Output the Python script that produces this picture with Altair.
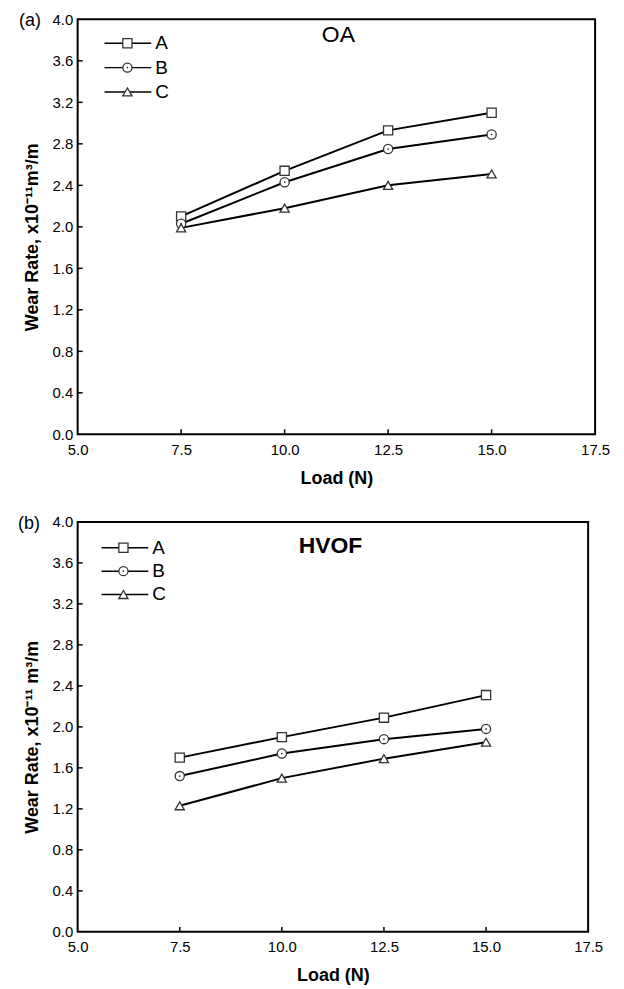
import altair as alt
import pandas as pd

FONT = "Liberation Sans"

loads = [7.5, 10.0, 12.5, 15.0]
series = ["A", "B", "C"]
shapes = ["square", "circle", "triangle-up"]
sizes = [85, 85, 180]

oa_A = [2.10, 2.54, 2.93, 3.10]
oa_B = [2.03, 2.43, 2.75, 2.89]
oa_C = [1.99, 2.18, 2.40, 2.51]

hvof_A = [1.70, 1.90, 2.09, 2.31]
hvof_B = [1.52, 1.74, 1.88, 1.98]
hvof_C = [1.23, 1.50, 1.69, 1.85]

x_labels = [5.0, 7.5, 10.0, 12.5, 15.0, 17.5]
x_ticks = [7.5, 10.0, 12.5, 15.0]
y_labels = [0.0, 0.4, 0.8, 1.2, 1.6, 2.0, 2.4, 2.8, 3.2, 3.6, 4.0]
y_ticks = [0.4, 0.8, 1.2, 1.6, 2.0, 2.4, 2.8, 3.2, 3.6]


def panel(vals, tag, name, name_weight, ytitle, w, h, leg, name_xy, tag_xy, title_shift):
    rows = []
    for s, v in zip(series, vals):
        for x, y in zip(loads, v):
            rows.append({"load": x, "rate": y, "series": s})
    df = pd.DataFrame(rows)
    base = alt.Chart(df)
    xs = alt.Scale(domain=[5, 17.5], nice=False, zero=False)
    ys = alt.Scale(domain=[0, 4], nice=False)
    xax = alt.Axis(values=x_labels, format=".1f", ticks=False, domain=False, grid=False,
                   labelFlush=False, labelPadding=8, title="Load (N)", titlePadding=12)
    yax = alt.Axis(values=y_labels, format=".1f", ticks=False, domain=False, grid=False,
                   labelPadding=5, title=ytitle, titlePadding=10, titleY=h / 2 + title_shift)
    shape_enc = alt.Shape("series:N", scale=alt.Scale(domain=series, range=shapes), legend=None)
    size_enc = alt.Size("series:O", scale=alt.Scale(domain=series, range=sizes), legend=None)

    lines = base.mark_line(color="black", strokeWidth=2).encode(
        x=alt.X("load:Q", scale=xs, axis=xax),
        y=alt.Y("rate:Q", scale=ys, axis=yax),
        detail="series:N",
    )
    pts = base.mark_point(filled=True, fill="white", stroke="#333", strokeWidth=1.3, opacity=1).encode(
        x="load:Q", y="rate:Q", shape=shape_enc, size=size_enc
    )
    dots = base.transform_filter(alt.datum.series == "B").mark_point(
        filled=True, size=3, color="#333", opacity=1
    ).encode(x="load:Q", y="rate:Q")

    xt = alt.Chart(pd.DataFrame({"t": x_ticks})).mark_rule(color="black", strokeWidth=1.5).encode(
        x=alt.X("t:Q", scale=xs), y=alt.value(h), y2=alt.value(h - 5)
    )
    yt = alt.Chart(pd.DataFrame({"t": y_ticks})).mark_rule(color="black", strokeWidth=1.5).encode(
        y=alt.Y("t:Q", scale=ys), x=alt.value(0), x2=alt.value(5)
    )
    tag_txt = alt.Chart(pd.DataFrame({"t": [tag]})).mark_text(
        font=FONT, fontSize=18, align="center", baseline="middle", color="black"
    ).encode(x=alt.value(tag_xy[0]), y=alt.value(tag_xy[1]), text="t:N")
    name_txt = alt.Chart(pd.DataFrame({"t": [name]})).mark_text(
        font=FONT, fontSize=23, fontWeight=name_weight, align="center", baseline="middle", color="black"
    ).encode(x=alt.value(name_xy[0]), y=alt.value(name_xy[1]), text="t:N")

    main = alt.layer(lines, pts, dots, xt, yt, tag_txt, name_txt)

    ldf = pd.DataFrame({"series": series, "shape": shapes})
    lbase = alt.Chart(ldf)
    ly = alt.Y("series:N", scale=alt.Scale(domain=series, range=[leg["y0"], leg["y1"]], type="point", padding=0), axis=None)
    l_rule = lbase.mark_rule(color="black", strokeWidth=1.5).encode(
        x=alt.value(leg["x0"]), x2=alt.value(leg["x1"]), y=ly
    )
    l_pt = lbase.mark_point(filled=True, fill="white", stroke="#333", strokeWidth=1.3, opacity=1).encode(
        x=alt.value(leg["xm"]), y=ly, shape=alt.Shape("shape:N", scale=None), size=size_enc
    )
    l_dot = lbase.transform_filter(alt.datum.series == "B").mark_point(
        filled=True, size=3, color="#333", opacity=1
    ).encode(x=alt.value(leg["xm"]), y=ly)
    l_txt = lbase.mark_text(font=FONT, fontSize=19, align="left", baseline="middle", color="black").encode(
        x=alt.value(leg["xt"]), y=ly, text="series:N"
    )
    legend = alt.layer(l_rule, l_pt, l_dot, l_txt)

    return alt.layer(main, legend).resolve_scale(y="independent").properties(width=w, height=h)


pa = panel([oa_A, oa_B, oa_C], "(a)", "OA", "normal", "Wear Rate, x10\u207b\u00b9\u00b9m\u00b3/m",
           520, 417, {"y0": 24, "y1": 73, "x0": 27, "x1": 74, "xm": 50, "xt": 78},
           (262, 16), (-48, 2), 10)
pb = panel([hvof_A, hvof_B, hvof_C], "(b)", "HVOF", "bold", "Wear Rate, x10\u207b\u00b9\u00b9 m\u00b3/m",
           513, 412, {"y0": 26, "y1": 73, "x0": 24, "x1": 71, "xm": 46, "xt": 75},
           (254, 24), (-49, 2), 10)

chart = alt.vconcat(pa, pb, spacing=26).properties(
    padding={"top": 1, "left": 9, "right": 5, "bottom": 0}
).configure_view(stroke="black", strokeWidth=2).configure_axis(
    labelFont=FONT, titleFont=FONT, labelColor="black", titleColor="black",
    labelFontSize=15, titleFontSize=18, titleFontWeight="bold"
)

chart.save("out.html", embed_options={"renderer": "svg", "actions": False})
